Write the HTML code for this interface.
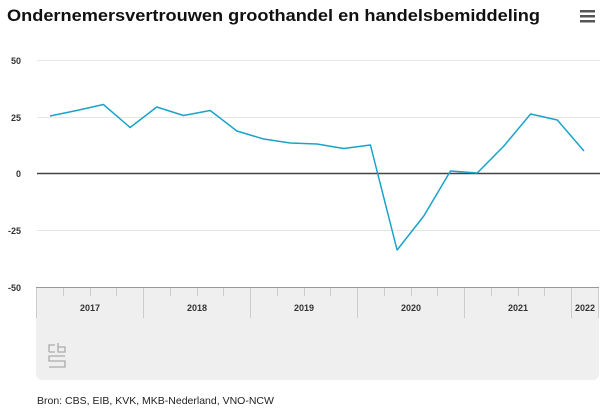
<!DOCTYPE html>
<html><head><meta charset="utf-8"><style>
body{margin:0;background:#fff;width:600px;height:411px;overflow:hidden;font-family:"Liberation Sans",sans-serif}
</style></head><body>
<svg width="600" height="411" xmlns="http://www.w3.org/2000/svg" font-family="Liberation Sans, sans-serif">
<text x="7" y="21" font-size="17" font-weight="bold" fill="#111" textLength="533" lengthAdjust="spacingAndGlyphs">Ondernemersvertrouwen groothandel en handelsbemiddeling</text>
<g fill="#555"><rect x="580" y="10" width="15" height="2.5"/><rect x="580" y="15" width="15" height="2.5"/><rect x="580" y="20" width="15" height="2.5"/></g>
<g stroke="#e6e6e6" stroke-width="1"><line x1="37" x2="600" y1="60.5" y2="60.5"/><line x1="37" x2="600" y1="117.5" y2="117.5"/><line x1="37" x2="600" y1="230.5" y2="230.5"/></g>
<g font-size="9" fill="#333" font-weight="bold" text-anchor="end"><text x="21" y="64">50</text><text x="21" y="121">25</text><text x="21" y="177">0</text><text x="21" y="234">-25</text><text x="21" y="291">-50</text></g>
<path d="M36 287 H599 V374 a6 6 0 0 1 -6 6 H42 a6 6 0 0 1 -6 -6Z" fill="#efefef"/>
<line x1="36" x2="599" y1="287.5" y2="287.5" stroke="#999"/>
<g stroke="#ccc" stroke-width="1">
<line x1="36.5" x2="36.5" y1="288" y2="318"/><line x1="143.5" x2="143.5" y1="288" y2="318"/><line x1="250.5" x2="250.5" y1="288" y2="318"/><line x1="357.5" x2="357.5" y1="288" y2="318"/><line x1="464.5" x2="464.5" y1="288" y2="318"/><line x1="571.5" x2="571.5" y1="288" y2="318"/><line x1="598.5" x2="598.5" y1="288" y2="318"/>
<path d="M63.5 288v8M90.5 288v8M116.5 288v8M170.5 288v8M197.5 288v8M223.5 288v8M277.5 288v8M304.5 288v8M330.5 288v8M384.5 288v8M411.5 288v8M437.5 288v8M491.5 288v8M518.5 288v8M544.5 288v8"/>
</g>
<g font-size="9" font-weight="bold" fill="#333" text-anchor="middle"><text x="90" y="311">2017</text><text x="197" y="311">2018</text><text x="304" y="311">2019</text><text x="411" y="311">2020</text><text x="518" y="311">2021</text><text x="585" y="311">2022</text></g>
<g fill="none" stroke="#aaa" stroke-width="1.3"><path d="M49 352V345H55M49 352H55"/><path d="M58 343V352H65V347H58"/><path d="M65 356H49V361H65V367H49"/></g>
<line x1="37" x2="600" y1="173.5" y2="173.5" stroke="#444" stroke-width="1.5"/>
<polyline fill="none" stroke="#1aa3c8" stroke-width="1.5" stroke-linejoin="round" points="50,116 76.7,110.5 103.4,104.5 130.1,127.5 156.8,107 183.5,115.5 210.2,110.5 236.9,131 263.6,139 290.3,143 317,144 343.7,148.5 370.4,145 397.1,250 423.8,216 450.5,171 477.2,173 503.9,146 530.6,114 557.3,120 584,151"/>
<text x="37" y="404" font-size="10.5" fill="#222">Bron: CBS, EIB, KVK, MKB-Nederland, VNO-NCW</text>
</svg>
</body></html>
